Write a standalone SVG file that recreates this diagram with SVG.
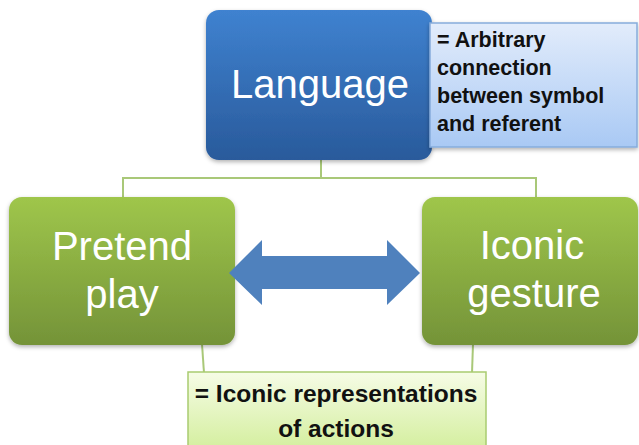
<svg xmlns="http://www.w3.org/2000/svg" width="639" height="445" viewBox="0 0 639 445">
<style>
.big{font-family:"Liberation Sans",Arial,sans-serif;font-size:40px;fill:#ffffff;text-anchor:middle}
.note{font-family:"Liberation Sans",Arial,sans-serif;font-weight:bold;fill:#111111}
.conn{fill:none;stroke:#a9c878;stroke-width:2}
</style>
<defs>
<linearGradient id="gBlue" x1="0" y1="0" x2="0" y2="1"><stop offset="0" stop-color="#3f82d0"/><stop offset="1" stop-color="#295a9b"/></linearGradient>
<linearGradient id="gGreen" x1="0" y1="0" x2="0" y2="1"><stop offset="0" stop-color="#9fc64b"/><stop offset="1" stop-color="#749338"/></linearGradient>
<linearGradient id="gNoteBlue" x1="0" y1="0" x2="0" y2="1"><stop offset="0" stop-color="#e2ecfb"/><stop offset="1" stop-color="#a9c9f4"/></linearGradient>
<linearGradient id="gNoteGreen" x1="0" y1="0" x2="0" y2="1"><stop offset="0" stop-color="#f6fce6"/><stop offset="1" stop-color="#d3ee9c"/></linearGradient>
<filter id="sh" x="-10%" y="-10%" width="120%" height="125%"><feDropShadow dx="0" dy="2" stdDeviation="2" flood-color="#000" flood-opacity="0.3"/></filter>
</defs>
<g id="connectors">
<polyline class="conn" points="123,197 123,178 536,178 536,197"/>
<line class="conn" x1="321" y1="160" x2="321" y2="178"/>
<line class="conn" x1="202" y1="344" x2="204" y2="373"/>
<line class="conn" x1="473" y1="344" x2="472" y2="373"/>
</g>
<g id="language">
<rect x="206" y="10" width="226" height="150" rx="13" fill="url(#gBlue)" filter="url(#sh)"/>
<text class="big" x="320" y="98">Language</text>
</g>
<g id="note-arbitrary">
<rect x="430" y="23" width="207" height="124" fill="url(#gNoteBlue)" stroke="#86acdc" stroke-width="1.5" filter="url(#sh)"/>
<text class="note" font-size="21.5" x="437" y="47">= Arbitrary</text>
<text class="note" font-size="21.5" x="437" y="75">connection</text>
<text class="note" font-size="21.5" x="437" y="103">between symbol</text>
<text class="note" font-size="21.5" x="437" y="131">and referent</text>
</g>
<g id="pretend-play">
<rect x="9" y="197" width="226" height="148" rx="13" fill="url(#gGreen)" filter="url(#sh)"/>
<text class="big" x="122" y="260">Pretend</text>
<text class="big" x="122" y="308">play</text>
</g>
<g id="iconic-gesture">
<rect x="422" y="197" width="216" height="148" rx="13" fill="url(#gGreen)" filter="url(#sh)"/>
<text class="big" x="532" y="259">Iconic</text>
<text class="big" x="534" y="307">gesture</text>
</g>
<g id="double-arrow">
<polygon points="229,273 262,240 262,256 387,256 387,240 420,273 387,305 387,289 262,289 262,305" fill="#4f81bd"/>
</g>
<g id="note-iconic">
<rect x="188" y="372" width="298" height="80" fill="url(#gNoteGreen)" stroke="#a9cc70" stroke-width="1.5"/>
<text class="note" font-size="24.5" x="336" y="402" text-anchor="middle">= Iconic representations</text>
<text class="note" font-size="24.5" x="336" y="437" text-anchor="middle">of actions</text>
</g>
</svg>
